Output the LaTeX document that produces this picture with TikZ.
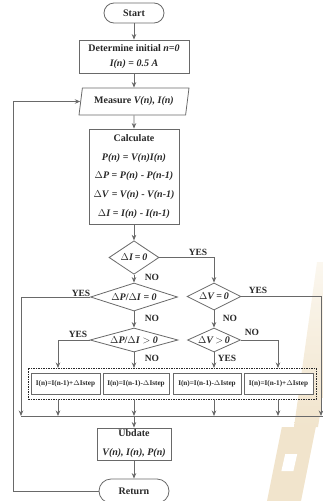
\documentclass[tikz,border=0pt]{standalone}
\usepackage{fontspec}
\setmainfont{Liberation Serif}
\usetikzlibrary{arrows.meta,shapes.geometric}

\definecolor{linegray}{RGB}{105,105,105}
\definecolor{txtgray}{RGB}{40,40,40}
\definecolor{roadtan}{RGB}{241,228,204}
\definecolor{roadpale}{RGB}{251,247,239}

\begin{document}
\begin{tikzpicture}[x=1pt,y=-1pt,>={Stealth[length=5.5pt,width=4.5pt]},
 every node/.style={text=txtgray,font=\fontsize{10}{12}\selectfont\bfseries},
 wire/.style={draw=linegray,line width=0.8pt},
 box/.style={draw=linegray,line width=0.8pt,fill=white,align=center,inner sep=2pt},
 term/.style={box,rounded corners=#1,minimum height=2*#1},
 dia/.style={diamond,draw=linegray,line width=0.8pt,fill=white,inner sep=0pt},
 yn/.style={font=\fontsize{9.5}{11}\selectfont\bfseries},
 stepbox/.style={box,font=\fontsize{7.2}{8}\selectfont\bfseries,minimum width=#1,minimum height=21pt,inner sep=0pt}]
 \useasboundingbox (0,0) rectangle (322,501);

 % road mark behind the chart
 \shade[top color=roadpale,bottom color=roadtan] (294,427) -- (317,262) -- (345,262) -- (318,427) -- cycle;
 \fill[roadtan] (267,501) -- (281.8,427) -- (315.8,427) -- (301,501) -- cycle;
 \fill[white] (281.4,471) -- (285.2,454) -- (297.2,454) -- (293.4,471) -- cycle;

 % main column
 \node[term=10pt,minimum width=60pt] (start) at (134,13) {Start};
 \node[box,minimum width=110pt,minimum height=33pt,font=\fontsize{10}{15}\selectfont\bfseries] (init) at (134,56.5)
 {Determine initial \textit{n=0}\\ \textit{I(n)} = \textit{0.5 A}};
 \node[trapezium,trapezium left angle=73,trapezium right angle=107,trapezium stretches body,
 draw=linegray,line width=0.8pt,fill=white,minimum width=110pt,minimum height=27pt,inner sep=1pt] (meas) at (134,101.5)
 {Measure \textit{V(n), I(n)}};
 \node[box,minimum width=90pt,minimum height=95pt,font=\fontsize{10}{18.75}\selectfont\bfseries] (calc) at (134,176.5)
 {Calculate\\ \textit{P(n)} = \textit{V(n)I(n)}\\
 $\Delta$\textit{P} = \textit{P(n)} - \textit{P(n-1)}\\
 $\Delta$\textit{V} = \textit{V(n)} - \textit{V(n-1)}\\
 $\Delta$\textit{I} = \textit{I(n)} - \textit{I(n-1)}};

 % decisions
 \node[dia,minimum width=50pt,minimum height=31pt] (d1) at (134,257.5) {$\Delta$\textit{I}\,=\,\textit{0}};
 \node[dia,minimum width=87pt,minimum height=28pt,aspect=3.1] (d2) at (134,297) {$\Delta$\textit{P}/$\Delta$\textit{I} = \textit{0}};
 \node[dia,minimum width=54pt,minimum height=27pt,aspect=2] (d3) at (214,296.5) {$\Delta$\textit{V}\,=\,\textit{0}};
 \node[dia,minimum width=88pt,minimum height=24pt,aspect=3.7] (d4) at (134,340) {$\Delta$\textit{P}/$\Delta$\textit{I} $>$ \textit{0}};
 \node[dia,minimum width=53pt,minimum height=24pt,aspect=2.2] (d5) at (214,340) {$\Delta$\textit{V}\,$>$\,\textit{0}};

 % current steps
 \node[draw=txtgray,dash pattern=on 1.5pt off 1pt,line width=0.6pt,minimum width=288pt,minimum height=31pt] (grp) at (172,383.5) {};
 \node[stepbox=69pt] (b1) at (65.5,383.5) {I(n)=I(n-1)+$\Delta$Istep};
 \node[stepbox=66pt] (b2) at (136,383.5) {I(n)=I(n-1)-$\Delta$Istep};
 \node[stepbox=68pt] (b3) at (207,383.5) {I(n)=I(n-1)-$\Delta$Istep};
 \node[stepbox=69pt] (b4) at (278.5,383.5) {I(n)=I(n-1)+$\Delta$Istep};

 \node[box,minimum width=74pt,minimum height=32pt,font=\fontsize{10}{19}\selectfont\bfseries] (upd) at (134,444)
 {Ubdate\\ \textit{V(n), I(n), P(n)}};
 \node[term=12pt,minimum width=70pt] (ret) at (134,491) {Return};

 \coordinate (in1) at (58,368);
 \coordinate (in2) at (134,368);
 \coordinate (in3) at (214,368);
 \coordinate (in4) at (278,368);
 \coordinate (busL) at (21,416);
 \coordinate (busR) at (330,416);
 \coordinate (busE) at (321,416);
 \coordinate (loop) at (13,0);

 \draw[wire,->] (start) -- (init);
 \draw[wire,->] (init) -- (meas);
 \draw[wire,->] (meas) -- (calc);
 \draw[wire,->] (calc) -- (d1);
 \draw[wire,->] (d1.east) -| (d3.north);
 \draw[wire,->] (d1) -- (d2);
 \draw[wire,->] (d2.west) -| (busL);
 \draw[wire,->] (d2) -- (d4);
 \draw[wire,->] (d3) -- (d5);
 \draw[wire,->] (d3.east) -| (busE);
 \draw[wire,->] (d4.west) -| (in1);
 \draw[wire,->] (d4) -- (in2);
 \draw[wire,->] (d5) -- (in3);
 \draw[wire,->] (d5.east) -| (in4);
 \foreach \c in {in1,in2,in3,in4}
 \draw[wire,->] (\c |- grp.south) -- (\c |- busL);
 \draw[wire] (busL) -- (busR);
 \draw[wire,->] (upd.north |- busL) -- (upd);
 \draw[wire,->] (upd) -- (ret);
 \draw[wire,->] (ret.west) -- (ret.west -| loop) |- (meas.west);

 % YES / NO marks
 \node[yn] (y1) at (198,252) {YES};
 \node[yn] (n1) at (152,277.5) {NO};
 \node[yn] (y2) at (81,293.5) {YES};
 \node[yn] (n2) at (152,318.5) {NO};
 \node[yn] (y3) at (258,290.5) {YES};
 \node[yn] (n3) at (230,318.5) {NO};
 \node[yn] (y4) at (78,334.5) {YES};
 \node[yn] (n4) at (152,358.5) {NO};
 \node[yn] (n5) at (252,332.5) {NO};
 \node[yn] (y5) at (227,358.5) {YES};
\end{tikzpicture}
\end{document}
